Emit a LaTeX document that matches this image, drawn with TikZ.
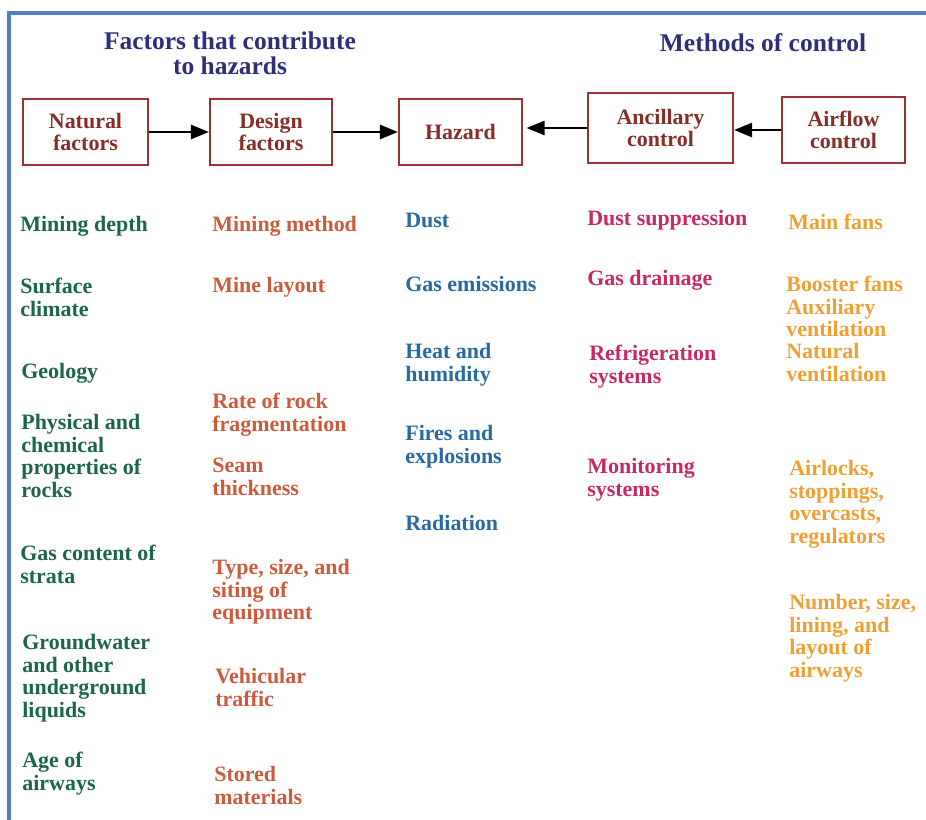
\documentclass[tikz,border=0pt]{standalone}
\usepackage{fontspec}
\setmainfont{Liberation Serif}
\usetikzlibrary{arrows.meta}

\definecolor{framecol}{RGB}{79,129,196}
\definecolor{titlecol}{RGB}{46,46,122}
\definecolor{boxcol}{RGB}{158,48,48}
\definecolor{boxtext}{RGB}{135,45,40}
\definecolor{natcol}{RGB}{28,100,78}
\definecolor{descol}{RGB}{205,90,60}
\definecolor{hazcol}{RGB}{40,105,160}
\definecolor{anccol}{RGB}{200,40,100}
\definecolor{aircol}{RGB}{240,160,50}

\begin{document}
\begin{tikzpicture}[x=0.02cm,y=-0.02cm,
    font=\bfseries\fontsize{12.5}{12.8}\selectfont,
    titletext/.style={text=titlecol, align=center, anchor=north, inner sep=0pt,
        font=\bfseries\fontsize{14.5}{14.5}\selectfont},
    box/.style={draw=boxcol, line width=1.2pt, text=boxtext, align=center,
        minimum height=1.32cm, font=\bfseries\fontsize{12.5}{12.5}\selectfont},
    arrowline/.style={-{Triangle[length=0.36cm,width=0.28cm]}, line width=1.5pt},
    item/.style={anchor=north west, inner sep=0pt, align=left}]

        \useasboundingbox (0,0) rectangle (926,820);

        % === FRAME ===
        \draw[framecol, line width=2pt] (9,820) -- (9,13) -- (926,13);

        % === TITLES ===
        \node[titletext] (factitle) at (230,31) {Factors that contribute\\to hazards};
        \node[titletext] (mettitle) at (763,33) {Methods of control};

        % === BOXES ===
        \node[box, minimum width=2.5cm] (natural) at (85.5,132) {Natural\\factors};
        \node[box, minimum width=2.44cm] (design) at (271,132) {Design\\factors};
        \node[box, minimum width=2.46cm] (hazard) at (460.5,132) {Hazard};
        \node[box, minimum width=2.9cm, minimum height=1.4cm] (ancillary) at (660.5,128) {Ancillary\\control};
        \node[box, minimum width=2.46cm] (airflow) at (843.5,130) {Airflow\\control};

        % === ARROWS ===
        \draw[arrowline] (natural.east) -- (design.west);
        \draw[arrowline] (design.east) -- (hazard.west);
        \draw[arrowline] (ancillary.west) -- ([xshift=2pt]ancillary.west -| hazard.east);
        \draw[arrowline] (airflow.west) -- (airflow.west -| ancillary.east);

        % === NATURAL FACTORS ===
        \node[item, text=natcol] (nat1) at (20,216) {Mining depth};
        \node[item, text=natcol] (nat2) at (20,278) {Surface\\climate};
        \node[item, text=natcol] (nat3) at (21,363) {Geology};
        \node[item, text=natcol] (nat4) at (21,414) {Physical and\\chemical\\properties of\\rocks};
        \node[item, text=natcol] (nat5) at (20,545) {Gas content of\\strata};
        \node[item, text=natcol] (nat6) at (22,634) {Groundwater\\and other\\underground\\liquids};
        \node[item, text=natcol] (nat7) at (22,752) {Age of\\airways};

        % === DESIGN FACTORS ===
        \node[item, text=descol] (des1) at (212,216) {Mining method};
        \node[item, text=descol] (des2) at (212,277) {Mine layout};
        \node[item, text=descol] (des3) at (212,393) {Rate of rock\\fragmentation};
        \node[item, text=descol] (des4) at (212,458) {Seam\\thickness};
        \node[item, text=descol] (des5) at (212,559) {Type, size, and\\siting of\\equipment};
        \node[item, text=descol] (des6) at (215,668) {Vehicular\\traffic};
        \node[item, text=descol] (des7) at (214,766) {Stored\\materials};

        % === HAZARDS ===
        \node[item, text=hazcol] (haz1) at (405,213) {Dust};
        \node[item, text=hazcol] (haz2) at (405,276) {Gas emissions};
        \node[item, text=hazcol] (haz3) at (405,343) {Heat and\\humidity};
        \node[item, text=hazcol] (haz4) at (405,425) {Fires and\\explosions};
        \node[item, text=hazcol] (haz5) at (405,515) {Radiation};

        % === ANCILLARY CONTROL ===
        \node[item, text=anccol] (anc1) at (587,210) {Dust suppression};
        \node[item, text=anccol] (anc2) at (587,270) {Gas drainage};
        \node[item, text=anccol] (anc3) at (589,345) {Refrigeration\\systems};
        \node[item, text=anccol] (anc4) at (587,458) {Monitoring\\systems};

        % === AIRFLOW CONTROL ===
        \node[item, text=aircol] (air1) at (788,214) {Main fans};
        \node[item, text=aircol] (air2) at (786,276) {Booster fans\\Auxiliary\\ventilation};
        \node[item, text=aircol] (air3) at (786,343) {Natural\\ventilation};
        \node[item, text=aircol] (air4) at (789,460) {Airlocks,\\stoppings,\\overcasts,\\regulators};
        \node[item, text=aircol] (air5) at (789,594) {Number, size,\\lining, and\\layout of\\airways};

    \end{tikzpicture}
\end{document}
